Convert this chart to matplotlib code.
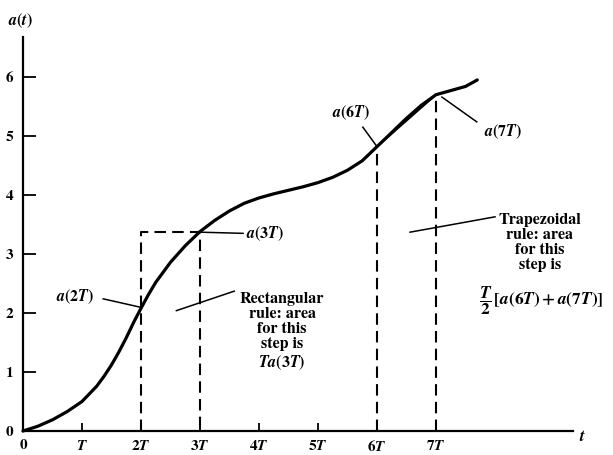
import matplotlib.pyplot as plt

plt.rcParams['mathtext.fontset'] = 'stix'
plt.rcParams['font.family'] = 'STIXGeneral'

# curve a(t), t in units of T
t_vals = [0, 0.25, 0.5, 0.75, 1.0, 1.25, 1.375, 1.5, 1.625, 1.75, 1.875, 2.0,
          2.125, 2.25, 2.5, 2.75, 3.0, 3.25, 3.5, 3.75, 4.0, 4.25, 4.5, 4.75,
          5.0, 5.25, 5.5, 5.75, 6.0, 6.25, 6.5, 6.75, 7.0, 7.25, 7.5, 7.7]
a_vals = [0, 0.08, 0.19, 0.33, 0.50, 0.76, 0.93, 1.12, 1.34, 1.58, 1.84, 2.08,
          2.31, 2.52, 2.86, 3.14, 3.38, 3.57, 3.73, 3.86, 3.95, 4.02, 4.08, 4.14,
          4.21, 4.30, 4.42, 4.58, 4.82, 5.06, 5.30, 5.52, 5.70, 5.77, 5.84, 5.95]

xtick_pos = [0, 1, 2, 3, 4, 5, 6, 7]
xtick_labels = ['0', r'$\mathbfit{T}$', r'$\mathbf{2}\mathbfit{T}$', r'$\mathbf{3}\mathbfit{T}$',
                r'$\mathbf{4}\mathbfit{T}$', r'$\mathbf{5}\mathbfit{T}$',
                r'$\mathbf{6}\mathbfit{T}$', r'$\mathbf{7}\mathbfit{T}$']
ytick_pos = [0, 1, 2, 3, 4, 5, 6]
ytick_labels = ['0', '1', '2', '3', '4', '5', '6']

a = dict(zip(t_vals, a_vals))

fig = plt.figure(figsize=(6.13, 4.55), dpi=100)
ax = fig.add_axes([23/613, 24/455, 550/613, 394/455])
ax.set_xlim(0, 550/59)
ax.set_ylim(0, 394/59)

for s in ['top', 'right']:
    ax.spines[s].set_visible(False)
for s in ['left', 'bottom']:
    ax.spines[s].set_linewidth(1.6)

ax.set_xticks(xtick_pos, xtick_labels)
ax.set_yticks(ytick_pos, ytick_labels)
ax.tick_params(axis='x', direction='in', length=6, width=1.3, pad=6, labelsize=11)
ax.tick_params(axis='y', direction='in', length=9, width=1.3, pad=7, labelsize=11)
for lab in ax.get_yticklabels() + ax.get_xticklabels():
    lab.set_fontweight('bold')

# the curve
ax.plot(t_vals, a_vals, color='black', lw=2.3, solid_capstyle='round',
        solid_joinstyle='round', clip_on=False)

# rectangular rule step (2T..3T)
dash = dict(color='black', lw=1.5, ls=(0, (5.5, 3)))
ax.plot([2, 2, 3, 3], [0, a[3.0], a[3.0], 0], **dash)

# trapezoidal rule step (6T..7T)
ax.plot([6, 6], [0, a[6.0]], **dash)
ax.plot([7, 7], [0, a[7.0]], **dash)
ax.plot([6, 7], [a[6.0], a[7.0]], color='black', lw=1.4)

# leaders and labels
fs = 11.5
lead = dict(color='black', lw=1.1)
ax.plot([1.36, 1.98], [2.24, 2.10], **lead)
ax.text(0.88, 2.27, r'$\mathbfit{a}\mathbf{(2}\mathbfit{T}\mathbf{)}$', ha='center', va='center', fontsize=fs)

ax.plot([3.0, 3.73], [3.37, 3.35], **lead)
ax.text(3.78, 3.34, r'$\mathbfit{a}\mathbf{(3}\mathbfit{T}\mathbf{)}$', ha='left', va='center', fontsize=fs)

ax.plot([2.6, 3.58], [2.04, 2.37], **lead)
ax.text(4.39, 1.68, 'Rectangular\nrule: area\nfor this\nstep is\n'
        r'$\mathbfit{Ta}\mathbf{(3}\mathbfit{T}\mathbf{)}$',
        ha='center', va='center', multialignment='center', fontsize=fs,
        fontweight='bold', linespacing=1.1)

ax.plot([5.76, 6.0], [5.15, 4.82], **lead)
ax.text(5.56, 5.39, r'$\mathbfit{a}\mathbf{(6}\mathbfit{T}\mathbf{)}$', ha='center', va='center', fontsize=fs)

ax.plot([7.1, 7.69], [5.66, 5.24], **lead)
ax.text(8.14, 5.07, r'$\mathbfit{a}\mathbf{(7}\mathbfit{T}\mathbf{)}$', ha='center', va='center', fontsize=fs)

ax.plot([6.56, 8.0], [3.37, 3.63], **lead)
ax.text(8.76, 3.19, 'Trapezoidal\nrule: area\nfor this\nstep is',
        ha='center', va='center', multialignment='center', fontsize=fs,
        fontweight='bold', linespacing=1.1)
ax.text(8.78, 2.2, r'$\dfrac{\mathbfit{T}}{\mathbf{2}}\,\mathbf{[}\mathbfit{a}\mathbf{(6}\mathbfit{T}\mathbf{)+}'
        r'\mathbfit{a}\mathbf{(7}\mathbfit{T}\mathbf{)]}$', ha='center', va='center',
        fontsize=12.5, clip_on=False)

# axis names
ax.text(-0.05, 6.95, r'$\mathbfit{a}\mathbf{(}\mathbfit{t}\mathbf{)}$', ha='center', va='center',
        fontsize=fs, clip_on=False)
ax.text(9.49, -0.1, r'$\mathbfit{t}$', ha='center', va='center', fontsize=12, clip_on=False)

fig.savefig('out.png', dpi=100)
